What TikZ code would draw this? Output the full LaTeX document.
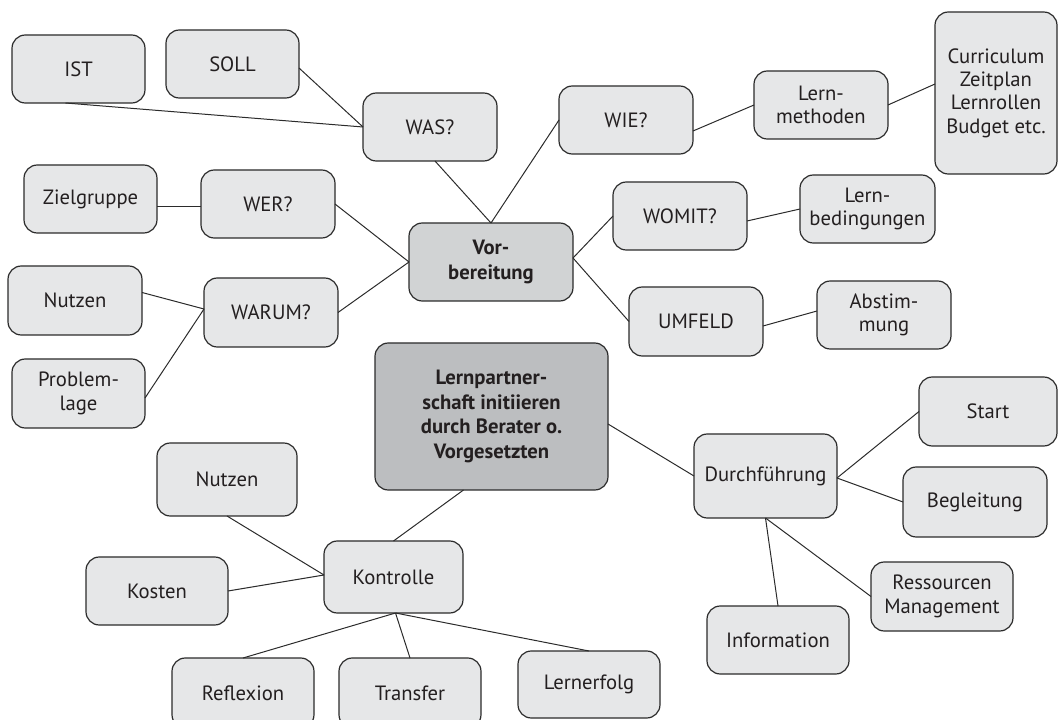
\documentclass[tikz,border=0pt]{standalone}
\usepackage{fontspec}
\setmainfont{PT Sans}
\usetikzlibrary{calc}
\definecolor{boxfill}{HTML}{E6E7E8}
\definecolor{vorfill}{HTML}{D1D3D4}
\definecolor{midfill}{HTML}{BCBEC0}
\definecolor{edge}{HTML}{2B2B2B}
\definecolor{ink}{HTML}{231F20}
\newcommand\mkbox[7][]{%
  \node[bx,#1,minimum width={(#5-#3)*0.75pt},minimum height={(#6-#4)*0.75pt}]
    (#2) at ({(#3+#5)/2},{(#4+#6)/2}) {#7};}
\begin{document}
\begin{tikzpicture}[x=0.75pt,y=-0.75pt,
  bx/.style={draw=edge,fill=boxfill,line width=0.9pt,rounded corners=10pt,
    inner sep=0pt,outer sep=0pt,align=center,text=ink,
    font=\fontsize{15.5}{17.5}\selectfont},
  vorbox/.style={fill=vorfill,font=\fontsize{15.5}{18.8}\selectfont\bfseries},
  midbox/.style={fill=midfill,font=\fontsize{15.5}{18.3}\selectfont\bfseries},
  con/.style={draw=edge,line width=0.75pt}]
\useasboundingbox (0,0) rectangle (1058,720);
\mkbox{ist}{12}{35}{145}{103}{IST}
\mkbox{soll}{166}{30}{299}{98}{SOLL}
\mkbox{was}{363}{93}{497}{161}{WAS?}
\mkbox{wie}{559}{86}{693}{154}{WIE?}
\mkbox{lernmeth}{754}{71}{888}{139}{Lern-\\methoden}
\mkbox{curr}{935}{12}{1057}{174}{Curriculum\\Zeitplan\\Lernrollen\\Budget etc.}
\mkbox{ziel}{24}{165}{157}{233}{Zielgruppe}
\mkbox{wer}{201}{170}{335}{238}{WER?}
\mkbox[vorbox]{vor}{409}{223}{573}{301}{Vor-\\bereitung}
\mkbox{womit}{613}{182}{747}{250}{WOMIT?}
\mkbox{lernbed}{800}{175}{935}{243}{Lern-\\bedingungen}
\mkbox{nutzenA}{8}{266}{142}{335}{Nutzen}
\mkbox{warum}{204}{278}{338}{347}{WARUM?}
\mkbox{umfeld}{629}{287}{763}{356}{UMFELD}
\mkbox{abst}{817}{281}{951}{349}{Abstim-\\mung}
\mkbox{problem}{12}{359}{145}{428}{Problem-\\lage}
\mkbox[midbox]{center}{375}{343}{608}{490}{Lernpartner-\\schaft initiieren\\durch Berater o.\\Vorgesetzten}
\mkbox{start}{919}{377}{1057}{446}{Start}
\mkbox{nutzenB}{157}{443}{297}{516}{Nutzen}
\mkbox{durch}{694}{434}{837}{518}{Durchführung}
\mkbox{begl}{903}{467}{1047}{537}{Begleitung}
\mkbox{kosten}{86}{557}{228}{625}{Kosten}
\mkbox{kontrolle}{324}{541}{463}{613}{Kontrolle}
\mkbox{ress}{871}{562}{1013}{631}{Ressourcen\\Management}
\mkbox{info}{707}{606}{849}{674}{Information}
\mkbox{reflex}{172}{658}{314}{728}{Reflexion}
\mkbox{transfer}{339}{658}{481}{728}{Transfer}
\mkbox{erfolg}{518}{651}{660}{718}{Lernerfolg}
% connectors
\draw[con] ($(ist.south)+(-13,0)$) -- (was.west);
\draw[con] ($(soll.east)+(0,4)$) -- (was.west);
\draw[con] ($(was.south)+(5,0)$) -- (vor.north);
\draw[con] (wie.west) -- (vor.north);
\draw[con] ($(wie.east)+(0,11)$) -- (lernmeth.west);
\draw[con] (lernmeth.east) -- ($(curr.west)+(0,-9)$);
\draw[con] ($(vor.east)+(0,-4)$) -- (womit.west);
\draw[con] ($(womit.east)+(0,5)$) -- (lernbed.west);
\draw[con] ($(vor.east)+(0,-4)$) -- (umfeld.west);
\draw[con] ($(umfeld.east)+(0,4.5)$) -- ($(abst.west)+(0,-4)$);
\draw[con] (wer.east) -- (vor.west);
\draw[con] (warum.east) -- (vor.west);
\draw[con] ($(ziel.east)+(0,8)$) -- ($(wer.west)+(0,3)$);
\draw[con] ($(nutzenA.east)+(0,-8)$) -- ($(warum.west)+(0,-3.5)$);
\draw[con] ($(problem.east)+(0,4.5)$) -- ($(warum.west)+(0,-3.5)$);
\draw[con] ($(vor.south)+(-2,0)$) -- ($(vor.south)+(-2,0)$ |- center.north);
\draw[con] ($(center.east)+(0,7.5)$) -- (durch.west);
\draw[con] ($(durch.east)+(0,2)$) -- (start.west);
\draw[con] ($(durch.east)+(0,2)$) -- (begl.west);
\draw[con] (durch.south) -- (info.north);
\draw[con] (durch.south) -- (ress.west);
\draw[con] ($(center.south)+(-28,0)$) -- (kontrolle.north);
\draw[con] (nutzenB.south) -- ($(kontrolle.west)+(0,-2)$);
\draw[con] (kosten.east) -- ($(kontrolle.west)+(0,-2)$);
\draw[con] ($(kontrolle.south)+(2,0)$) -- (reflex.north);
\draw[con] ($(kontrolle.south)+(2,0)$) -- (transfer.north);
\draw[con] ($(kontrolle.south)+(2,0)$) -- (erfolg.north);
\end{tikzpicture}
\end{document}
